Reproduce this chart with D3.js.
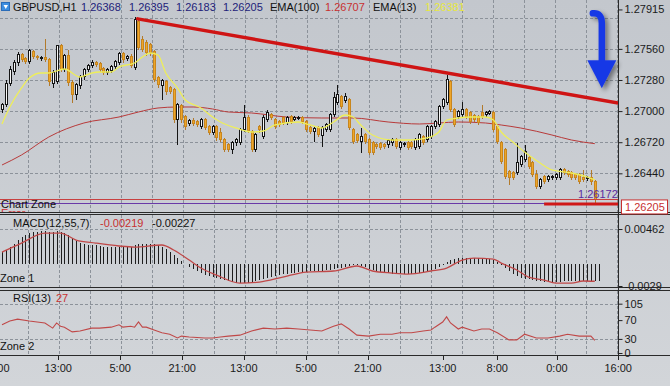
<!DOCTYPE html>
<html>
<head>
<meta charset="utf-8">
<script src="https://cdn.jsdelivr.net/npm/d3@7"></script>
<style>
  body { margin: 0; background: #c9ccd1; }
  svg { display: block; font-family: "Liberation Sans", Arial, sans-serif; }
</style>
</head>
<body>
<svg id="chart" width="670" height="386"></svg>
<script>
// GBPUSD H1 bars: [open, high, low, close]
const ohlc = [
  [1.27010,1.27073,1.26983,1.27055],[1.27055,1.27280,1.27037,1.27244],[1.27244,1.27406,1.27226,1.27370],
  [1.27352,1.27460,1.27325,1.27433],[1.27433,1.27532,1.27406,1.27505],[1.27505,1.27523,1.27442,1.27460],
  [1.27469,1.27487,1.27424,1.27442],[1.27442,1.27559,1.27424,1.27541],[1.27532,1.27550,1.27469,1.27487],
  [1.27487,1.27505,1.27460,1.27478],[1.27469,1.27496,1.27451,1.27478],[1.27478,1.27649,1.27442,1.27460],
  [1.27460,1.27478,1.27226,1.27262],[1.27244,1.27370,1.27208,1.27343],[1.27262,1.27595,1.27244,1.27586],
  [1.27586,1.27604,1.27352,1.27370],[1.27370,1.27514,1.27352,1.27496],[1.27496,1.27550,1.27226,1.27253],
  [1.27253,1.27280,1.27073,1.27145],[1.27145,1.27253,1.27100,1.27235],[1.27226,1.27325,1.27199,1.27307],
  [1.27307,1.27388,1.27280,1.27370],[1.27370,1.27424,1.27352,1.27406],[1.27406,1.27460,1.27388,1.27433],
  [1.27433,1.27451,1.27397,1.27415],[1.27424,1.27442,1.27352,1.27370],[1.27379,1.27397,1.27325,1.27343],
  [1.27343,1.27388,1.27325,1.27370],[1.27361,1.27415,1.27343,1.27397],[1.27397,1.27460,1.27379,1.27442],
  [1.27433,1.27532,1.27415,1.27514],[1.27514,1.27532,1.27433,1.27460],[1.27469,1.27505,1.27451,1.27487],
  [1.27487,1.27514,1.27388,1.27406],[1.27388,1.27847,1.27370,1.27820],[1.27802,1.27838,1.27550,1.27568],
  [1.27640,1.27676,1.27532,1.27550],[1.27613,1.27640,1.27496,1.27523],[1.27595,1.27613,1.27496,1.27523],
  [1.27532,1.27550,1.27262,1.27280],[1.27298,1.27316,1.27208,1.27235],[1.27226,1.27289,1.27100,1.27271],
  [1.27262,1.27280,1.27145,1.27172],[1.27208,1.27226,1.27154,1.27172],[1.27190,1.27208,1.26893,1.26920],
  [1.26920,1.27073,1.26695,1.27055],[1.27046,1.27064,1.26893,1.26920],[1.26947,1.26965,1.26830,1.26857],
  [1.26884,1.26929,1.26866,1.26911],[1.26911,1.26938,1.26866,1.26884],[1.26902,1.26920,1.26857,1.26875],
  [1.26857,1.26938,1.26839,1.26920],[1.26920,1.26938,1.26830,1.26848],[1.26857,1.26875,1.26785,1.26803],
  [1.26803,1.26875,1.26785,1.26857],[1.26857,1.26875,1.26731,1.26758],[1.26803,1.26848,1.26722,1.26740],
  [1.26740,1.26758,1.26632,1.26650],[1.26695,1.26713,1.26632,1.26650],[1.26650,1.26731,1.26614,1.26713],
  [1.26713,1.26758,1.26686,1.26740],[1.26713,1.26848,1.26695,1.26830],[1.26830,1.27055,1.26812,1.26938],
  [1.26938,1.26965,1.26803,1.26821],[1.26812,1.26830,1.26632,1.26650],[1.26650,1.26803,1.26632,1.26785],
  [1.26857,1.26875,1.26803,1.26830],[1.26767,1.26965,1.26749,1.26938],[1.26920,1.27010,1.26902,1.26983],
  [1.26965,1.26983,1.26920,1.26938],[1.26920,1.26938,1.26839,1.26857],[1.26902,1.26920,1.26857,1.26875],
  [1.26938,1.26956,1.26875,1.26893],[1.26893,1.26956,1.26875,1.26938],[1.26947,1.26965,1.26884,1.26902],
  [1.26920,1.26956,1.26911,1.26938],[1.26929,1.26956,1.26920,1.26938],[1.26938,1.26956,1.26884,1.26902],
  [1.26902,1.26920,1.26812,1.26830],[1.26848,1.26866,1.26794,1.26812],[1.26812,1.26857,1.26722,1.26839],
  [1.26848,1.26866,1.26767,1.26785],[1.26776,1.26866,1.26677,1.26848],[1.26830,1.26893,1.26812,1.26875],
  [1.26830,1.26983,1.26812,1.26965],[1.26965,1.27172,1.26947,1.27118],[1.27073,1.27235,1.27055,1.27145],
  [1.27127,1.27145,1.27019,1.27037],[1.27091,1.27163,1.27073,1.27127],[1.27100,1.27118,1.26830,1.26848],
  [1.26830,1.26848,1.26704,1.26722],[1.26785,1.26803,1.26713,1.26731],[1.26722,1.26848,1.26623,1.26767],
  [1.26785,1.26803,1.26704,1.26722],[1.26740,1.26758,1.26605,1.26623],[1.26713,1.26731,1.26605,1.26623],
  [1.26695,1.26713,1.26659,1.26677],[1.26704,1.26722,1.26650,1.26668],[1.26695,1.26713,1.26659,1.26677],
  [1.26695,1.26749,1.26668,1.26731],[1.26713,1.26758,1.26686,1.26740],[1.26740,1.26758,1.26659,1.26677],
  [1.26668,1.26731,1.26650,1.26713],[1.26695,1.26722,1.26677,1.26704],[1.26713,1.26731,1.26650,1.26668],
  [1.26713,1.26731,1.26659,1.26677],[1.26668,1.26758,1.26650,1.26740],[1.26677,1.26803,1.26659,1.26785],
  [1.26767,1.26785,1.26695,1.26713],[1.26740,1.26875,1.26722,1.26857],[1.26767,1.26875,1.26749,1.26857],
  [1.26857,1.26920,1.26839,1.26902],[1.26875,1.27055,1.26857,1.27037],[1.27037,1.27118,1.27019,1.27100],
  [1.27073,1.27325,1.27055,1.27280],[1.27262,1.27280,1.26992,1.27010],[1.27010,1.27028,1.26857,1.26875],
  [1.26947,1.27010,1.26929,1.26992],[1.26965,1.27082,1.26947,1.27010],[1.27010,1.27028,1.26929,1.26947],
  [1.26983,1.27001,1.26884,1.26902],[1.26956,1.26974,1.26902,1.26920],[1.26947,1.26965,1.26875,1.26893],
  [1.26983,1.27055,1.26929,1.26947],[1.26965,1.27001,1.26947,1.26983],[1.26974,1.27010,1.26965,1.26992],
  [1.26983,1.27001,1.26812,1.26830],[1.26857,1.26875,1.26704,1.26722],[1.26713,1.26731,1.26524,1.26542],
  [1.26650,1.26668,1.26389,1.26407],[1.26452,1.26470,1.26335,1.26398],[1.26443,1.26461,1.26380,1.26398],
  [1.26443,1.26713,1.26425,1.26533],[1.26515,1.26605,1.26497,1.26587],[1.26560,1.26695,1.26542,1.26632],
  [1.26578,1.26596,1.26479,1.26497],[1.26533,1.26551,1.26407,1.26425],[1.26425,1.26470,1.26299,1.26317],
  [1.26317,1.26398,1.26299,1.26380],[1.26407,1.26425,1.26344,1.26362],[1.26380,1.26425,1.26362,1.26407],
  [1.26398,1.26425,1.26380,1.26407],[1.26398,1.26443,1.26380,1.26425],[1.26398,1.26488,1.26380,1.26470],
  [1.26470,1.26488,1.26425,1.26443],[1.26452,1.26470,1.26407,1.26425],[1.26443,1.26461,1.26380,1.26398],
  [1.26425,1.26443,1.26380,1.26398],[1.26425,1.26443,1.26344,1.26362],[1.26398,1.26470,1.26362,1.26380],
  [1.26389,1.26416,1.26371,1.26398],[1.26398,1.26470,1.26335,1.26362],[1.26362,1.26380,1.26172,1.26205]
];

// moving averages, read at sample bars: [bar, value]
const ema13 = [
  [0,1.26884],[2,1.27037],[5,1.27208],[7,1.27298],[10,1.27343],[12,1.27343],[16,1.27379],[20,1.27307],
  [23,1.27343],[25,1.27352],[28,1.27352],[30,1.27397],[34,1.27433],[36,1.27487],[38,1.27523],[40,1.27505],
  [42,1.27343],[45,1.27208],[47,1.27100],[51,1.27028],[54,1.26947],[56,1.26902],[60,1.26848],[64,1.26812],
  [67,1.26821],[70,1.26875],[76,1.26902],[79,1.26875],[82,1.26848],[85,1.26902],[88,1.26965],[90,1.26947],
  [92,1.26875],[95,1.26785],[100,1.26740],[105,1.26740],[109,1.26758],[112,1.26812],[114,1.26920],
  [117,1.26938],[120,1.26947],[124,1.26947],[126,1.26920],[128,1.26812],[131,1.26722],[134,1.26632],
  [135,1.26605],[138,1.26533],[141,1.26470],[146,1.26443],[150,1.26407],[152,1.26381]
];
const ema100 = [
  [0,1.26515],[5,1.26605],[12,1.26767],[21,1.26893],[30,1.26947],[35,1.26992],[40,1.27028],[45,1.27037],
  [49,1.27037],[54,1.27019],[58,1.26992],[64,1.26983],[73,1.26947],[82,1.26938],[90,1.26938],[99,1.26902],
  [107,1.26884],[112,1.26893],[117,1.26902],[124,1.26893],[128,1.26875],[133,1.26848],[141,1.26785],
  [146,1.26740],[152,1.26707]
];

// MACD(12,55,7) histogram, one value per bar, and signal line samples
const macdHist = [
  0.00158,0.00185,0.00224,0.00264,0.00317,0.00356,0.00383,0.00409,0.00422,0.00422,0.00436,0.00436,
  0.00422,0.00422,0.00436,0.00422,0.00409,0.00383,0.00343,0.00304,0.00277,0.00264,0.00251,0.00251,
  0.00251,0.00238,0.00224,0.00224,0.00224,0.00224,0.00224,0.00224,0.00224,0.00224,0.00251,0.00264,
  0.00264,0.00264,0.00264,0.00264,0.00251,0.00224,0.00198,0.00158,0.00119,0.00079,0.00040,0.00000,
  -0.00040,-0.00066,-0.00092,-0.00119,-0.00145,-0.00158,-0.00172,-0.00185,-0.00198,-0.00211,-0.00224,
  -0.00238,-0.00251,-0.00251,-0.00251,-0.00251,-0.00238,-0.00224,-0.00211,-0.00198,-0.00185,-0.00172,
  -0.00158,-0.00145,-0.00132,-0.00132,-0.00119,-0.00119,-0.00106,-0.00106,-0.00106,-0.00092,-0.00092,
  -0.00092,-0.00092,-0.00079,-0.00079,-0.00066,-0.00053,-0.00053,-0.00040,-0.00026,-0.00013,-0.00013,
  -0.00026,-0.00040,-0.00066,-0.00079,-0.00092,-0.00106,-0.00119,-0.00119,-0.00132,-0.00132,-0.00132,
  -0.00132,-0.00132,-0.00132,-0.00119,-0.00119,-0.00106,-0.00092,-0.00079,-0.00066,-0.00040,-0.00013,
  0.00026,0.00053,0.00066,0.00079,0.00079,0.00079,0.00079,0.00079,0.00079,0.00066,0.00066,0.00066,
  0.00053,0.00026,-0.00013,-0.00053,-0.00092,-0.00132,-0.00158,-0.00185,-0.00198,-0.00198,-0.00211,
  -0.00224,-0.00224,-0.00238,-0.00238,-0.00238,-0.00238,-0.00238,-0.00224,-0.00224,-0.00224,-0.00224,
  -0.00224,-0.00224,-0.00224,-0.00224,-0.00220,-0.00219
];
const macdSignal = [
  [0,0.00158],[5,0.00277],[11,0.00409],[15,0.00409],[19,0.00317],[24,0.00277],[30,0.00238],[34,0.00224],
  [41,0.00251],[44,0.00185],[48,0.00053],[51,-0.00053],[55,-0.00145],[61,-0.00251],[66,-0.00238],
  [72,-0.00172],[78,-0.00106],[85,-0.00092],[91,-0.00026],[95,-0.00092],[100,-0.00119],[104,-0.00132],
  [110,-0.00092],[114,-0.00053],[118,0.00053],[121,0.00079],[126,0.00066],[128,0.00013],[132,-0.00079],
  [135,-0.00172],[139,-0.00211],[142,-0.00251],[146,-0.00251],[149,-0.00224],[152,-0.00227]
];

// RSI(13) samples: [bar, value]
const rsi = [
  [0,60],[2,68],[4,72],[7,68],[9,66],[11,64],[13,53],[14,64],[15,57],[16,55],[18,45],[20,47],[23,53],
  [25,53],[28,55],[30,60],[31,55],[33,57],[34,55],[35,66],[36,55],[37,55],[39,49],[41,43],[43,40],
  [45,32],[46,36],[48,34],[52,32],[54,32],[56,34],[58,36],[61,38],[64,47],[67,53],[70,51],[73,53],
  [76,51],[79,49],[82,47],[85,57],[87,62],[89,51],[91,38],[94,36],[97,40],[100,40],[102,43],[105,43],
  [108,47],[110,49],[111,55],[113,66],[114,77],[115,64],[117,51],[118,55],[121,47],[123,51],[125,51],
  [127,43],[130,28],[132,28],[134,40],[137,32],[140,32],[143,36],[145,40],[148,36],[151,36],[152,27]
];

const priceTicks = [1.27915, 1.27560, 1.27280, 1.27000, 1.26720, 1.26440];
const priceGrid = [1.27840, 1.27560, 1.27280, 1.27000, 1.26720, 1.26440];
const macdTicks = [0.00462, -0.0029];
const rsiTicks = [105, 70, 30, 0];
const rsiLevels = [105, 30];
const timeLabels = ['0:00', '13:00', '5:00', '21:00', '13:00', '5:00', '21:00', '13:00', '8:00', '0:00', '16:00'];
const timeBars = [-0.8, 14.4, 30.3, 46.2, 62, 78, 93.8, 113, 127, 142.3, 158];

const header = [
  ['GBPUSD,H1', '#111'], ['1.26368', '#22227a'], ['1.26395', '#22227a'], ['1.26183', '#22227a'],
  ['1.26205', '#22227a'], ['EMA(100)', '#111'], ['1.26707', '#c83030'], ['EMA(13)', '#111'], ['1.26381', '#e8e840']
];
const headerX = [13, 81, 129, 176, 223, 270, 325, 373, 425];

const bidPrice = 1.26205;
const levelPrice = 1.26172;
const trendBars = [34.8, 158];
const trendPrices = [1.27830, 1.27073];
const arrowBar = 153.8;
const arrowPrices = [1.27880, 1.27205];

const svg = d3.select('#chart');
const axisX = 618;

const x = d3.scaleLinear().domain([0, 152]).range([2, 594.8]);
const yMain = d3.scaleLinear().domain([1.261, 1.28]).range([211.1, 0]);
const yMacd = d3.scaleLinear().domain([-0.00303, 0.00647]).range([287, 215]);
const yRsi = d3.scaleLinear().domain([0, 132]).range([353, 291]);

const defs = svg.append('defs');
const bg = defs.append('linearGradient').attr('id', 'bg').attr('x1', 0).attr('x2', 0).attr('y1', 0).attr('y2', 1);
bg.append('stop').attr('offset', '0%').attr('stop-color', '#c3c7cd');
bg.append('stop').attr('offset', '100%').attr('stop-color', '#d2d5d9');
const sh = defs.append('filter').attr('id', 'shadow').attr('x', '-50%').attr('y', '-50%').attr('width', '200%').attr('height', '200%');
sh.append('feGaussianBlur').attr('in', 'SourceAlpha').attr('stdDeviation', 2.5).attr('result', 'b');
sh.append('feOffset').attr('in', 'b').attr('dx', 3).attr('dy', 3).attr('result', 'o');
sh.append('feComponentTransfer').attr('in', 'o').attr('result', 'o2')
  .append('feFuncA').attr('type', 'linear').attr('slope', 0.45);
const mg = sh.append('feMerge');
mg.append('feMergeNode').attr('in', 'o2');
mg.append('feMergeNode').attr('in', 'SourceGraphic');

const panels = [['clipMain', 0, 212], ['clipMacd', 215, 287], ['clipRsi', 291, 355]];
panels.forEach(([id, y0, y1]) => {
  defs.append('clipPath').attr('id', id).append('rect')
    .attr('x', 0).attr('y', y0).attr('width', axisX).attr('height', y1 - y0);
});

svg.append('rect').attr('width', 670).attr('height', 386).attr('fill', 'url(#bg)');

// vertical grid, every 8 bars
const gridX = d3.range(28, axisX, 31);
const grid = svg.append('g').attr('stroke', '#8c929a').attr('stroke-dasharray', '3,2').attr('stroke-width', 1);
panels.forEach(([id, y0, y1]) => {
  grid.append('g').attr('clip-path', `url(#${id})`).selectAll('line').data(gridX).join('line')
    .attr('x1', (d) => d + 0.5).attr('x2', (d) => d + 0.5).attr('y1', y0).attr('y2', y1);
});
grid.selectAll('line.hp').data(priceGrid).join('line').classed('hp', true)
  .attr('x1', 0).attr('x2', axisX).attr('y1', (d) => Math.round(yMain(d)) + 0.5).attr('y2', (d) => Math.round(yMain(d)) + 0.5);
grid.selectAll('line.hm').data([macdTicks[0]]).join('line').classed('hm', true)
  .attr('x1', 0).attr('x2', axisX).attr('y1', (d) => Math.round(yMacd(d)) + 0.5).attr('y2', (d) => Math.round(yMacd(d)) + 0.5);
grid.selectAll('line.hr').data(rsiLevels).join('line').classed('hr', true)
  .attr('x1', 0).attr('x2', axisX).attr('y1', (d) => Math.round(yRsi(d)) + 0.5).attr('y2', (d) => Math.round(yRsi(d)) + 0.5);

// main chart
const main = svg.append('g').attr('clip-path', 'url(#clipMain)');

const lineGen = (yS) => d3.line().x((d) => x(d[0])).y((d) => yS(d[1])).curve(d3.curveMonotoneX);

main.append('path').datum(ema100).attr('d', lineGen(yMain))
  .attr('fill', 'none').attr('stroke', '#b83a3a').attr('stroke-width', 1);

const candles = main.append('g').attr('shape-rendering', 'crispEdges');
const c = candles.selectAll('g').data(ohlc).join('g');
c.append('line')
  .attr('x1', (d, i) => Math.round(x(i)) + 0.5).attr('x2', (d, i) => Math.round(x(i)) + 0.5)
  .attr('y1', (d) => yMain(d[1])).attr('y2', (d) => yMain(d[2]))
  .attr('stroke', (d) => (d[3] >= d[0] ? '#151515' : '#b27a2c'));
c.append('rect')
  .attr('x', (d, i) => Math.round(x(i)) - 0.5)
  .attr('y', (d) => yMain(Math.max(d[0], d[3])))
  .attr('width', 2)
  .attr('height', (d) => Math.max(1, Math.abs(yMain(d[0]) - yMain(d[3]))))
  .attr('fill', (d) => (d[3] >= d[0] ? '#f6f6f6' : '#eea62a'))
  .attr('stroke', (d) => (d[3] >= d[0] ? '#151515' : '#c8861e'));

main.append('path').datum(ema13).attr('d', lineGen(yMain))
  .attr('fill', 'none').attr('stroke', '#eeee5a').attr('stroke-width', 1.3);

main.append('line').attr('x1', x(trendBars[0])).attr('y1', yMain(trendPrices[0]))
  .attr('x2', x(trendBars[1])).attr('y2', yMain(trendPrices[1]))
  .attr('stroke', '#cf1414').attr('stroke-width', 3.5).attr('stroke-linecap', 'round');

main.append('line').attr('x1', 0).attr('x2', axisX)
  .attr('y1', Math.round(yMain(bidPrice)) + 0.5).attr('y2', Math.round(yMain(bidPrice)) + 0.5)
  .attr('stroke', '#c84040').attr('stroke-width', 1);
main.append('line').attr('x1', 0).attr('x2', axisX)
  .attr('y1', Math.round(yMain(levelPrice)) + 0.5).attr('y2', Math.round(yMain(levelPrice)) + 0.5)
  .attr('stroke', '#6a3aa8').attr('stroke-width', 1);
main.append('line').attr('x1', x(139)).attr('x2', axisX + 2)
  .attr('y1', yMain(levelPrice) + 1).attr('y2', yMain(levelPrice) + 1)
  .attr('stroke', '#d01818').attr('stroke-width', 3);

main.append('text').attr('x', 578).attr('y', yMain(levelPrice) - 5)
  .attr('font-size', 11).attr('fill', '#5a2aa0').text(levelPrice.toFixed(5));

main.append('text').attr('x', 1).attr('y', 217).attr('font-size', 11).attr('fill', '#d03030').text('Error');
main.append('text').attr('x', 1).attr('y', 208).attr('font-size', 11).attr('fill', '#111').text('Chart Zone');

// blue arrow
const ax = x(arrowBar);
const aTop = yMain(arrowPrices[0]);
const aTip = yMain(arrowPrices[1]);
const arrow = svg.append('g').attr('filter', 'url(#shadow)');
arrow.append('path')
  .attr('d', `M${ax - 9},${aTop} Q${ax},${aTop - 1} ${ax},${aTop + 10} L${ax},${aTip - 24}`)
  .attr('fill', 'none').attr('stroke', '#1838e6').attr('stroke-width', 6.5).attr('stroke-linecap', 'round');
arrow.append('path')
  .attr('d', `M${ax - 14.5},${aTip - 28} L${ax + 14.5},${aTip - 28} L${ax},${aTip} Z`)
  .attr('fill', '#1838e6');

// MACD
const macd = svg.append('g').attr('clip-path', 'url(#clipMacd)');
macd.append('g').attr('shape-rendering', 'crispEdges').selectAll('line').data(macdHist).join('line')
  .attr('x1', (d, i) => Math.round(x(i)) + 0.5).attr('x2', (d, i) => Math.round(x(i)) + 0.5)
  .attr('y1', yMacd(0)).attr('y2', (d) => yMacd(d))
  .attr('stroke', '#1e1e1e').attr('stroke-width', 1);
macd.append('path').datum(macdSignal).attr('d', lineGen(yMacd))
  .attr('fill', 'none').attr('stroke', '#c04848').attr('stroke-width', 1.3);

// RSI
const rsiG = svg.append('g').attr('clip-path', 'url(#clipRsi)');
rsiG.append('path').datum(rsi)
  .attr('d', d3.line().x((d) => x(d[0])).y((d) => yRsi(d[1])))
  .attr('fill', 'none').attr('stroke', '#c04848').attr('stroke-width', 1.1);

// panel borders
const borders = svg.append('g').attr('stroke', '#2a2a2a').attr('shape-rendering', 'crispEdges');
[212.5, 214.5, 287.5, 290.5, 355.5].forEach((yy) => {
  borders.append('line').attr('x1', 0).attr('x2', 670).attr('y1', yy).attr('y2', yy);
});
borders.append('line').attr('x1', axisX + 0.5).attr('x2', axisX + 0.5).attr('y1', 0).attr('y2', 356);

// right axes
function rightAxis(scale, ticks, fmt) {
  const g = svg.append('g').attr('transform', `translate(${axisX + 0.5},0)`)
    .call(d3.axisRight(scale).tickValues(ticks).tickFormat(fmt).tickSize(4).tickPadding(2));
  g.select('.domain').remove();
  g.selectAll('line').attr('stroke', '#222');
  g.selectAll('text').attr('fill', '#1a1a1a').attr('font-size', 11).attr('font-family', '"Liberation Sans", Arial, sans-serif');
  return g;
}
rightAxis(yMain, priceTicks, d3.format('.5f'));
rightAxis(yMacd, macdTicks, (d) => (d > 0 ? d.toFixed(5) : '-' + Math.abs(d).toFixed(4)));
rightAxis(yRsi, rsiTicks, d3.format('d'));

// bid price box
const by = yMain(bidPrice);
svg.append('rect').attr('x', 621.5).attr('y', by + 0.5).attr('width', 46).attr('height', 14)
  .attr('fill', '#fff').attr('stroke', '#c83030');
svg.append('text').attr('x', 625).attr('y', by + 12).attr('font-size', 11).attr('fill', '#c83030')
  .text(bidPrice.toFixed(5));

// time axis
const tAxis = svg.append('g');
tAxis.selectAll('line').data(timeBars).join('line')
  .attr('x1', (d) => Math.round(x(d)) + 0.5).attr('x2', (d) => Math.round(x(d)) + 0.5)
  .attr('y1', 356).attr('y2', 360).attr('stroke', '#222');
tAxis.selectAll('text').data(timeLabels).join('text')
  .attr('x', (d, i) => x(timeBars[i])).attr('y', 372)
  .attr('text-anchor', 'middle').attr('font-size', 11).attr('fill', '#1a1a1a').text((d) => d);

// header texts
svg.append('rect').attr('x', 1.5).attr('y', 2.5).attr('width', 8).attr('height', 8).attr('fill', '#3d8ee0').attr('stroke', '#2a6cb8');
svg.append('path').attr('d', 'M3.5,5 L8,5 L5.75,9 Z').attr('fill', '#fff');
svg.append('g').selectAll('text').data(header).join('text')
  .attr('x', (d, i) => headerX[i]).attr('y', 11).attr('font-size', 11)
  .attr('fill', (d) => d[1]).text((d) => d[0]);

const macdHead = [['MACD(12,55,7)', '#111', 13], ['-0.00219', '#c83030', 100], ['-0.00227', '#111', 152]];
svg.append('g').selectAll('text').data(macdHead).join('text')
  .attr('x', (d) => d[2]).attr('y', 227).attr('font-size', 11).attr('fill', (d) => d[1]).text((d) => d[0]);
const rsiHead = [['RSI(13)', '#111', 13], ['27', '#c83030', 56]];
svg.append('g').selectAll('text').data(rsiHead).join('text')
  .attr('x', (d) => d[2]).attr('y', 302).attr('font-size', 11).attr('fill', (d) => d[1]).text((d) => d[0]);

svg.append('text').attr('x', 0).attr('y', 282).attr('font-size', 11).attr('fill', '#111').text('Zone 1');
svg.append('text').attr('x', 0).attr('y', 350).attr('font-size', 11).attr('fill', '#111').text('Zone 2');
</script>
</body>
</html>
